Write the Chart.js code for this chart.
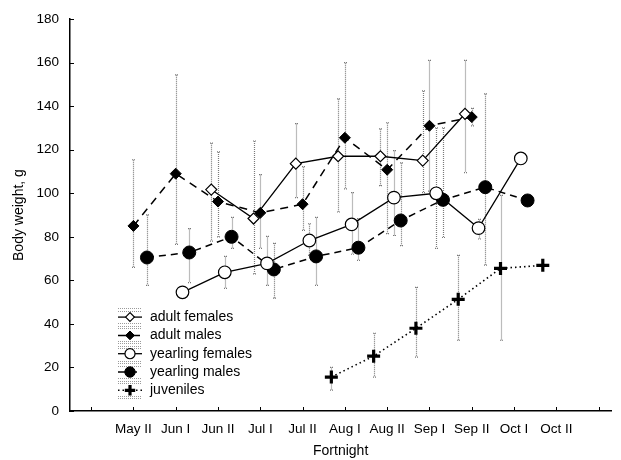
<!DOCTYPE html>
<html>
<head>
<meta charset="utf-8">
<script src="https://cdn.jsdelivr.net/npm/chart.js@4.4.0/dist/chart.umd.min.js"></script>
<style>
    html, body { margin: 0; padding: 0; background: #fff; }
    #wrap { width: 621px; height: 460px; }
</style>
</head>
<body>
<div id="wrap"><canvas id="weightChart"></canvas></div>
<script>
// fortnights, placed at tick 1..11 (ticks 0 and 12 stay blank)
const categories = ['May II', 'Jun I', 'Jun II', 'Jul I', 'Jul II', 'Aug I', 'Aug II', 'Sep I', 'Sep II', 'Oct I', 'Oct II'];
const yTicks = [0, 20, 40, 60, 80, 100, 120, 140, 160, 180];

// mean body weight and the ends of the error bars, one value per fortnight
const adultFemales     = [null, null, 101.7, 88.4, 113.6, 117, 117, 115, 136.5, null, null];
const adultFemalesLow  = [null, null, 78, 63, 98, 91.4, 103.5, 100.3, 109.5, null, null];
const adultFemalesHigh = [null, null, 123, 124, 132, 143.4, 129.6, 147, 161, null, null];

const adultMales     = [85, 109, 96.2, 91, 95, 125.5, 110.8, 131, 135, null, null];
const adultMalesLow  = [66, 76.5, 80, 74.7, 83, 102, 81.5, 101, 131, null, null];
const adultMalesHigh = [115.4, 154.4, 119, 108.6, 112.2, 160, 132.4, 161, 139, null, null];

const yearlingFemales     = [null, 54.5, 63.7, 67.8, 78.3, 85.7, 98, 100, 84, 116, null];
const yearlingFemalesLow  = [null, null, 56.3, 57.7, 71.5, 72, 80.6, 74.7, 79, null, null];
const yearlingFemalesHigh = [null, null, 71, 80.2, 86, 100.3, 119.6, 130, 88, null, null];

const yearlingMales     = [70.5, 72.8, 80, 65, 71, 75, 87.5, 97, 102.8, 96.7, null];
const yearlingMalesLow  = [57.7, 59, 74.7, 51.8, 57.7, 69.2, 76, 79.7, 67, null, null];
const yearlingMalesHigh = [90.1, 83.8, 88.9, 77, 88.9, 88.4, 114, 130, 145.7, null, null];

const juveniles     = [null, null, null, null, null, 15.6, 25.2, 38, 51.3, 65.5, 66.9];
const juvenilesLow  = [null, null, null, null, null, 9.6, 15.6, 24.7, 32.5, 32.5, null];
const juvenilesHigh = [null, null, null, null, null, 20, 35.7, 56.8, 71.5, 99, null];

const FONT = 'Liberation Sans, Arial, sans-serif';

// builds {x, y, lo, hi} points; shift nudges a series sideways so bars don't overlap
function toPoints(values, lows, highs, shift) {
    const pts = [];
    values.forEach((v, i) => {
        if (v === null) return;
        pts.push({ x: i + 1 + shift, y: v, lo: lows[i], hi: highs[i] });
    });
    return pts;
}

const errorBars = {
    id: 'errorBars',
    beforeDatasetsDraw(chart) {
        const ctx = chart.ctx;
        const xs = chart.scales.x, ys = chart.scales.y;
        ctx.save();
        ctx.strokeStyle = '#7a7a7a';
        ctx.lineWidth = 1.2;
        ctx.setLineDash([1, 1]);
        chart.data.datasets.forEach(ds => {
            ds.data.forEach(p => {
                if (p.lo === null || p.hi === null) return;
                const x = Math.round(xs.getPixelForValue(p.x)) + 0.5;
                const top = ys.getPixelForValue(p.hi);
                const bot = ys.getPixelForValue(p.lo);
                ctx.beginPath();
                ctx.moveTo(x, top);
                ctx.lineTo(x, bot);
                ctx.moveTo(x - 1.5, top);
                ctx.lineTo(x + 1.5, top);
                ctx.moveTo(x - 1.5, bot);
                ctx.lineTo(x + 1.5, bot);
                ctx.stroke();
            });
        });
        ctx.restore();
    }
};

// short inward tick marks on both axes
const innerTicks = {
    id: 'innerTicks',
    afterDraw(chart) {
        const ctx = chart.ctx;
        const xs = chart.scales.x, ys = chart.scales.y;
        const area = chart.chartArea;
        ctx.save();
        ctx.strokeStyle = '#000';
        ctx.lineWidth = 1;
        ctx.beginPath();
        xs.ticks.forEach(t => {
            const x = Math.round(xs.getPixelForValue(t.value)) + 0.5;
            ctx.moveTo(x, area.bottom);
            ctx.lineTo(x, area.bottom - 4);
        });
        ys.ticks.forEach(t => {
            const y = Math.round(ys.getPixelForValue(t.value)) + 0.5;
            ctx.moveTo(area.left, y);
            ctx.lineTo(area.left + 4, y);
        });
        ctx.stroke();
        ctx.restore();
    }
};

// legend drawn inside the plot, lower left
const insideLegend = {
    id: 'insideLegend',
    afterDraw(chart) {
        const ctx = chart.ctx;
        const area = chart.chartArea;
        const left = area.left + 48, right = left + 24, mid = left + 12;
        const firstRow = area.top + 298, rowStep = 18.3;
        const n = chart.data.datasets.length;
        ctx.save();
        // grey dotted hatching behind the symbols
        ctx.strokeStyle = '#9a9a9a';
        ctx.lineWidth = 1;
        ctx.setLineDash([1, 1]);
        ctx.beginPath();
        for (let y = firstRow - 9; y <= firstRow + (n - 1) * rowStep + 9; y += 2.5) {
            const k = Math.round((y - firstRow) / rowStep);
            if (Math.abs(y - (firstRow + k * rowStep)) < 5) continue;
            ctx.moveTo(left, Math.round(y) + 0.5);
            ctx.lineTo(right, Math.round(y) + 0.5);
        }
        ctx.stroke();

        chart.data.datasets.forEach((ds, i) => {
            const y = firstRow + i * rowStep;
            ctx.strokeStyle = '#000';
            ctx.lineWidth = ds.borderWidth;
            ctx.setLineDash(ds.borderDash);
            ctx.beginPath();
            ctx.moveTo(left, y);
            ctx.lineTo(right, y);
            ctx.stroke();
            ctx.setLineDash([]);
            ctx.fillStyle = ds.pointBackgroundColor;
            ctx.strokeStyle = '#000';
            ctx.lineWidth = ds.pointBorderWidth;
            Chart.helpers.drawPoint(ctx, {
                pointStyle: ds.pointStyle,
                radius: ds.pointRadius * 0.8,
                borderWidth: ds.pointBorderWidth,
                rotation: 0
            }, mid, y);
            ctx.fillStyle = '#000';
            ctx.font = '14px ' + FONT;
            ctx.textBaseline = 'middle';
            ctx.fillText(ds.label, right + 8, y);
        });
        ctx.restore();
    }
};

const ctx = document.getElementById('weightChart').getContext('2d');
window.weightChart = new Chart(ctx, {
    type: 'scatter',
    data: {
        datasets: [
            {
                label: 'adult females',
                data: toPoints(adultFemales, adultFemalesLow, adultFemalesHigh, -0.16),
                showLine: true,
                borderColor: '#000',
                borderWidth: 1.3,
                borderDash: [],
                pointStyle: 'rectRot',
                pointRadius: 5.5,
                pointBackgroundColor: '#fff',
                pointBorderColor: '#000',
                pointBorderWidth: 1.2
            },
            {
                label: 'adult males',
                data: toPoints(adultMales, adultMalesLow, adultMalesHigh, 0),
                showLine: true,
                borderColor: '#000',
                borderWidth: 1.5,
                borderDash: [8, 6],
                pointStyle: 'rectRot',
                pointRadius: 5.5,
                pointBackgroundColor: '#000',
                pointBorderColor: '#000',
                pointBorderWidth: 1
            },
            {
                label: 'yearling females',
                data: toPoints(yearlingFemales, yearlingFemalesLow, yearlingFemalesHigh, 0.16),
                showLine: true,
                borderColor: '#000',
                borderWidth: 1.3,
                borderDash: [],
                pointStyle: 'circle',
                pointRadius: 6.3,
                pointBackgroundColor: '#fff',
                pointBorderColor: '#000',
                pointBorderWidth: 1.2
            },
            {
                label: 'yearling males',
                data: toPoints(yearlingMales, yearlingMalesLow, yearlingMalesHigh, 0.32),
                showLine: true,
                borderColor: '#000',
                borderWidth: 1.5,
                borderDash: [7, 5],
                pointStyle: 'circle',
                pointRadius: 6.5,
                pointBackgroundColor: '#000',
                pointBorderColor: '#000',
                pointBorderWidth: 1
            },
            {
                label: 'juveniles',
                data: toPoints(juveniles, juvenilesLow, juvenilesHigh, -0.32),
                showLine: true,
                borderColor: '#000',
                borderWidth: 1.6,
                borderDash: [1.5, 3],
                pointStyle: 'cross',
                pointRadius: 6.5,
                pointBackgroundColor: '#000',
                pointBorderColor: '#000',
                pointBorderWidth: 3.2
            }
        ]
    },
    options: {
        responsive: true,
        maintainAspectRatio: false,
        animation: false,
        events: [],
        layout: { padding: { top: 18, right: 0, left: 0, bottom: 0 } },
        plugins: {
            legend: { display: false },
            tooltip: { enabled: false }
        },
        scales: {
            x: {
                type: 'linear',
                min: -0.5,
                max: 12.3,
                afterBuildTicks: scale => {
                    scale.ticks = [0, 1, 2, 3, 4, 5, 6, 7, 8, 9, 10, 11, 12].map(v => ({ value: v }));
                },
                afterFit: scale => { scale.height = 49; },
                grid: { display: false, drawTicks: false },
                border: { display: true, color: '#000', width: 1.5 },
                ticks: {
                    padding: 10,
                    maxRotation: 0,
                    autoSkip: false,
                    color: '#000',
                    font: { family: FONT, size: 13.5 },
                    callback: v => categories[v - 1] || ''
                },
                title: {
                    display: true,
                    text: 'Fortnight',
                    color: '#000',
                    padding: { top: 0, bottom: 0 },
                    font: { family: FONT, size: 14 }
                }
            },
            y: {
                min: 0,
                max: 180,
                afterBuildTicks: scale => {
                    scale.ticks = yTicks.map(v => ({ value: v }));
                },
                afterFit: scale => { scale.width = 70; },
                grid: { display: false, drawTicks: false },
                border: { display: true, color: '#000', width: 1.5 },
                ticks: {
                    padding: 11,
                    color: '#000',
                    font: { family: FONT, size: 13.5 }
                },
                title: {
                    display: true,
                    text: 'Body weight, g',
                    color: '#000',
                    padding: { top: 11, bottom: 0 },
                    font: { family: FONT, size: 14 }
                }
            }
        }
    },
    plugins: [errorBars, innerTicks, insideLegend]
});
</script>
</body>
</html>
